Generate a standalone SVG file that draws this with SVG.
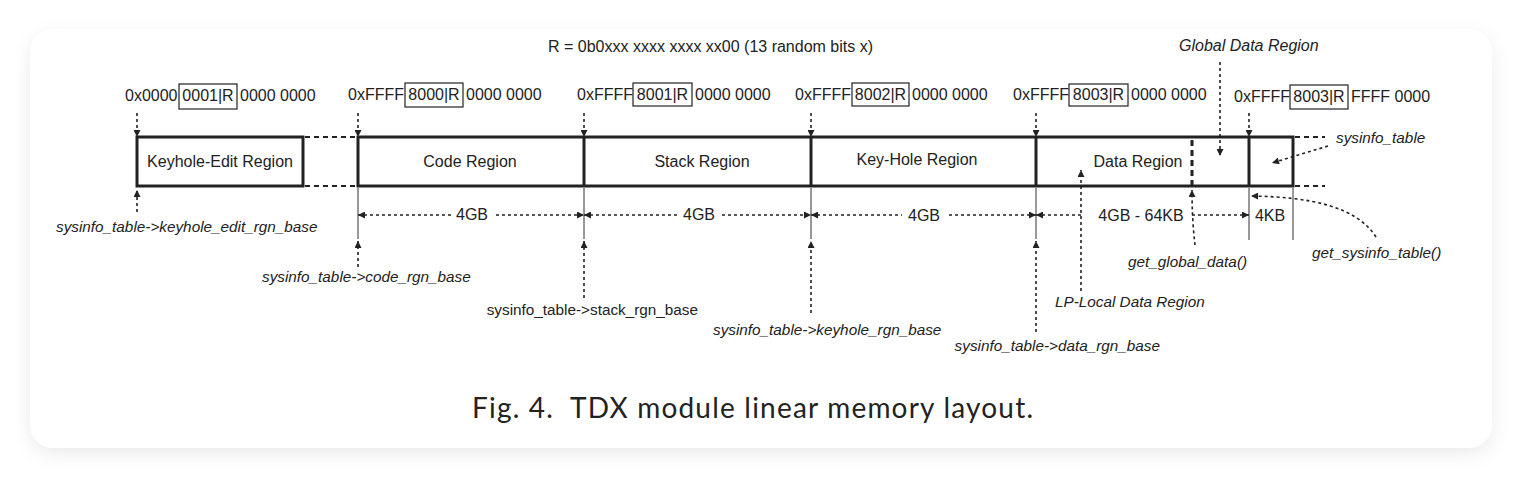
<svg xmlns="http://www.w3.org/2000/svg" width="1522" height="478" viewBox="0 0 1522 478">
<defs>
<filter id="sh" x="-5%" y="-10%" width="110%" height="125%">
<feDropShadow dx="0" dy="6" stdDeviation="9" flood-color="#000" flood-opacity="0.08"/>
</filter>
<marker id="ah" viewBox="0 0 10 10" refX="10" refY="5" markerWidth="8" markerHeight="7" markerUnits="userSpaceOnUse" orient="auto-start-reverse">
<path d="M0,0 L10,5 L0,10 z" fill="#222"/>
</marker>
</defs>
<style>
.t{font-family:"Liberation Sans",Arial,sans-serif;font-size:16px;fill:#222}
.i{font-family:"Liberation Sans",Arial,sans-serif;font-size:15.3px;font-style:italic;fill:#222}
.s{font-family:"Liberation Sans",Arial,sans-serif;font-size:15.3px;fill:#222}
.m{text-anchor:middle}
.e{text-anchor:end}
.box{fill:none;stroke:#222;stroke-width:3}
.div{stroke:#222;stroke-width:3}
.ab{fill:none;stroke:#222;stroke-width:1.2}
.da{fill:none;stroke:#222;stroke-width:1.6;stroke-dasharray:3 3}
.ext{fill:none;stroke:#333;stroke-width:1}
.cx{fill:none;stroke:#222;stroke-width:2;stroke-dasharray:5 4}
.bg{fill:#fff}
</style>
<rect x="0" y="0" width="1522" height="478" fill="#fff"/>
<rect x="30" y="29" width="1462" height="419" rx="24" ry="24" fill="#fff" filter="url(#sh)"/>

<text class="t" x="548" y="52">R = 0b0xxx xxxx xxxx xx00 (13 random bits x)</text>

<g id="addr1">
<text class="t" x="125" y="101">0x0000</text>
<rect class="ab" x="179" y="84" width="58" height="25"/>
<text class="t m" x="208" y="101">0001|R</text>
<text class="t" x="240" y="101">0000 0000</text>
</g>
<g id="addr2">
<text class="t" x="348" y="100">0xFFFF</text>
<rect class="ab" x="405" y="83" width="58" height="24"/>
<text class="t m" x="434" y="100">8000|R</text>
<text class="t" x="466" y="100">0000 0000</text>
</g>
<g id="addr3">
<text class="t" x="577" y="100">0xFFFF</text>
<rect class="ab" x="633" y="83" width="59" height="23"/>
<text class="t m" x="662.5" y="100">8001|R</text>
<text class="t" x="695" y="100">0000 0000</text>
</g>
<g id="addr4">
<text class="t" x="795" y="100">0xFFFF</text>
<rect class="ab" x="852" y="83" width="57" height="23"/>
<text class="t m" x="880.5" y="100">8002|R</text>
<text class="t" x="912" y="100">0000 0000</text>
</g>
<g id="addr5">
<text class="t" x="1013" y="100">0xFFFF</text>
<rect class="ab" x="1069" y="84" width="59" height="22"/>
<text class="t m" x="1098.5" y="100">8003|R</text>
<text class="t" x="1131" y="100">0000 0000</text>
</g>
<g id="addr6">
<text class="t" x="1234" y="102">0xFFFF</text>
<rect class="ab" x="1290" y="85" width="58" height="24"/>
<text class="t m" x="1319" y="102">8003|R</text>
<text class="t" x="1351" y="102">FFFF 0000</text>
</g>

<g id="keyhole-edit-region">
<rect class="box" x="137" y="137" width="166" height="49"/>
<text class="t m" x="220" y="167">Keyhole-Edit Region</text>
</g>
<g id="memory-bar">
<rect class="box" x="358" y="137" width="935" height="49"/>
</g>
<g id="code-region">
<text class="t m" x="470" y="167">Code Region</text>
</g>
<g id="stack-region">
<line class="div" x1="584" y1="137" x2="584" y2="186"/>
<text class="t m" x="702" y="167">Stack Region</text>
</g>
<g id="keyhole-region">
<line class="div" x1="811" y1="137" x2="811" y2="186"/>
<text class="t m" x="917" y="165">Key-Hole Region</text>
</g>
<g id="data-region">
<line class="div" x1="1036" y1="137" x2="1036" y2="186"/>
<text class="t m" x="1138" y="167">Data Region</text>
<line x1="1192" y1="140" x2="1192" y2="186" stroke="#222" stroke-width="3" stroke-dasharray="6 4"/>
</g>
<g id="sysinfo-region">
<line class="div" x1="1249" y1="137" x2="1249" y2="186"/>
</g>

<g id="connectors">
<path class="cx" d="M305,137 H356 M305,186 H356 M1295,137 H1325 M1295,186 H1325"/>
<path class="da" d="M137,113 V137" marker-end="url(#ah)"/>
<path class="da" d="M358,113 V137" marker-end="url(#ah)"/>
<path class="da" d="M584,113 V137" marker-end="url(#ah)"/>
<path class="da" d="M811,113 V137" marker-end="url(#ah)"/>
<path class="da" d="M1036,113 V137" marker-end="url(#ah)"/>
<path class="da" d="M1249,113 V137" marker-end="url(#ah)"/>
<path class="da" d="M1220,62 V156" marker-end="url(#ah)"/>
<path class="da" d="M1328,146 L1272,163" marker-end="url(#ah)"/>

<path class="ext" d="M358,188 V239 M584,188 V239 M811,188 V239 M1036,188 V239 M1249,188 V240 M1293,188 V240"/>

<path class="da" d="M358,215 H584" marker-start="url(#ah)" marker-end="url(#ah)"/>
<path class="da" d="M584,215 H811" marker-start="url(#ah)" marker-end="url(#ah)"/>
<path class="da" d="M811,215 H1036" marker-start="url(#ah)" marker-end="url(#ah)"/>
<path class="da" d="M1036,215 H1249" marker-start="url(#ah)" marker-end="url(#ah)"/>
<rect class="bg" x="452" y="204" width="43" height="22"/>
<rect class="bg" x="677" y="204" width="44" height="22"/>
<rect class="bg" x="902" y="204" width="44" height="22"/>
<rect class="bg" x="1084" y="204" width="106" height="22"/>

<path class="da" d="M137,212 V190" marker-end="url(#ah)"/>
<path class="da" d="M358,267 V241" marker-end="url(#ah)"/>
<path class="da" d="M584,298 V241" marker-end="url(#ah)"/>
<path class="da" d="M811,313 V241" marker-end="url(#ah)"/>
<path class="da" d="M1036,332 V241" marker-end="url(#ah)"/>
<path class="da" d="M1081,291 V170" marker-end="url(#ah)"/>
<path class="da" d="M1195,245 Q1192,220 1192,190" marker-end="url(#ah)"/>
<path class="da" d="M1376,237 C1356,206 1310,197 1251,196" marker-end="url(#ah)"/>
</g>

<g id="dimension-labels">
<text class="t m" x="472" y="220">4GB</text>
<text class="t m" x="699" y="220">4GB</text>
<text class="t m" x="924" y="221">4GB</text>
<text class="t m" x="1141" y="221">4GB - 64KB</text>
<text class="t m" x="1270" y="221">4KB</text>
</g>

<g id="labels">
<text class="t i" x="1179" y="51" style="font-size:16px">Global Data Region</text>
<text class="i" x="1336" y="143">sysinfo_table</text>
<text class="i" x="56" y="232">sysinfo_table-&gt;keyhole_edit_rgn_base</text>
<text class="i" x="262" y="282">sysinfo_table-&gt;code_rgn_base</text>
<text class="s e" x="698" y="315">sysinfo_table-&gt;stack_rgn_base</text>
<text class="i" x="713" y="335">sysinfo_table-&gt;keyhole_rgn_base</text>
<text class="i e" x="1160" y="351">sysinfo_table-&gt;data_rgn_base</text>
<text class="i" x="1055" y="307">LP-Local Data Region</text>
<text class="i" x="1128" y="267">get_global_data()</text>
<text class="i" x="1312" y="258">get_sysinfo_table()</text>
</g>

<text x="472" y="418" font-family="Lato, 'Noto Sans', sans-serif" font-size="28" fill="#222" textLength="561" lengthAdjust="spacing" xml:space="preserve">Fig. 4.  TDX module linear memory layout.</text>
</svg>
